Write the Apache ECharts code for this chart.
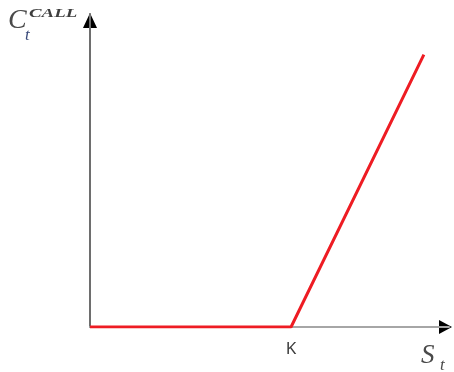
<!DOCTYPE html>
<html><head><meta charset="utf-8">
<script src="https://cdn.jsdelivr.net/npm/echarts@6/dist/echarts.min.js"></script>
<style>html,body{margin:0;padding:0;background:#fff}#c{width:454px;height:372px}</style>
</head><body><div id="c"></div>
<script>
// Call option payoff: flat at zero until strike K, then rising linearly
const strike = 56;
const xMax = 100, yMax = 100;
const payoffX = [0, 56, 93];
const payoffY = [0, 0, 87];
const tickLabels = {56: 'K'};

const chart = echarts.init(document.getElementById('c'));
const serif = '"Liberation Serif", "DejaVu Serif", serif';
chart.setOption({
  animation: false,
  grid: {left: 90, right: 5, top: 14, bottom: 45},
  xAxis: {
    type: 'value', min: 0, max: xMax, interval: strike,
    axisLine: {show: true, onZero: false, lineStyle: {color: '#a6a6a6', width: 2}},
    axisTick: {show: false}, splitLine: {show: false},
    axisLabel: {margin: 14, fontSize: 17, color: '#3c3c3c', fontFamily: 'Noto Sans',
      formatter: v => tickLabels[v] || ''}
  },
  yAxis: {
    type: 'value', min: 0, max: yMax,
    axisLine: {show: true, onZero: false, lineStyle: {color: '#6e6e6e', width: 2}},
    axisTick: {show: false}, splitLine: {show: false}, axisLabel: {show: false}
  },
  series: [{
    type: 'line', symbol: 'none',
    data: payoffX.map((x, i) => [x, payoffY[i]]),
    lineStyle: {color: '#ee1c23', width: 3}
  }]
});

const o = chart.convertToPixel({gridIndex: 0}, [0, 0]);
const xEnd = chart.convertToPixel({gridIndex: 0}, [xMax, 0]);
const yEnd = chart.convertToPixel({gridIndex: 0}, [0, yMax]);
chart.setOption({
  graphic: [
    {type: 'polygon', shape: {points: [[xEnd[0] - 10, o[1] - 7], [xEnd[0] + 3, o[1]], [xEnd[0] - 10, o[1] + 7]]}, style: {fill: '#000'}},
    {type: 'polygon', shape: {points: [[o[0] - 7, yEnd[1] + 14], [o[0], yEnd[1] - 1], [o[0] + 7, yEnd[1] + 14]]}, style: {fill: '#000'}},
    {type: 'text', x: 8, y: 35, style: {text: 'C', font: 'italic 28px ' + serif, fill: '#4a4a4a', textVerticalAlign: 'bottom'}},
    {type: 'text', x: 29, y: 20, scaleX: 1.45, style: {text: 'CALL', font: 'italic bold 13px ' + serif, fill: '#3e3e3e', textVerticalAlign: 'bottom'}},
    {type: 'text', x: 25, y: 44, style: {text: 't', font: 'italic 17px ' + serif, fill: '#3a4a7a', textVerticalAlign: 'bottom'}},
    {type: 'text', x: 421, y: 369, style: {text: 'S', font: 'italic 27px ' + serif, fill: '#4a4a4a', textVerticalAlign: 'bottom'}},
    {type: 'text', x: 440, y: 374, style: {text: 't', font: 'italic 17px ' + serif, fill: '#4a4a4a', textVerticalAlign: 'bottom'}}
  ]
});
</script></body></html>
